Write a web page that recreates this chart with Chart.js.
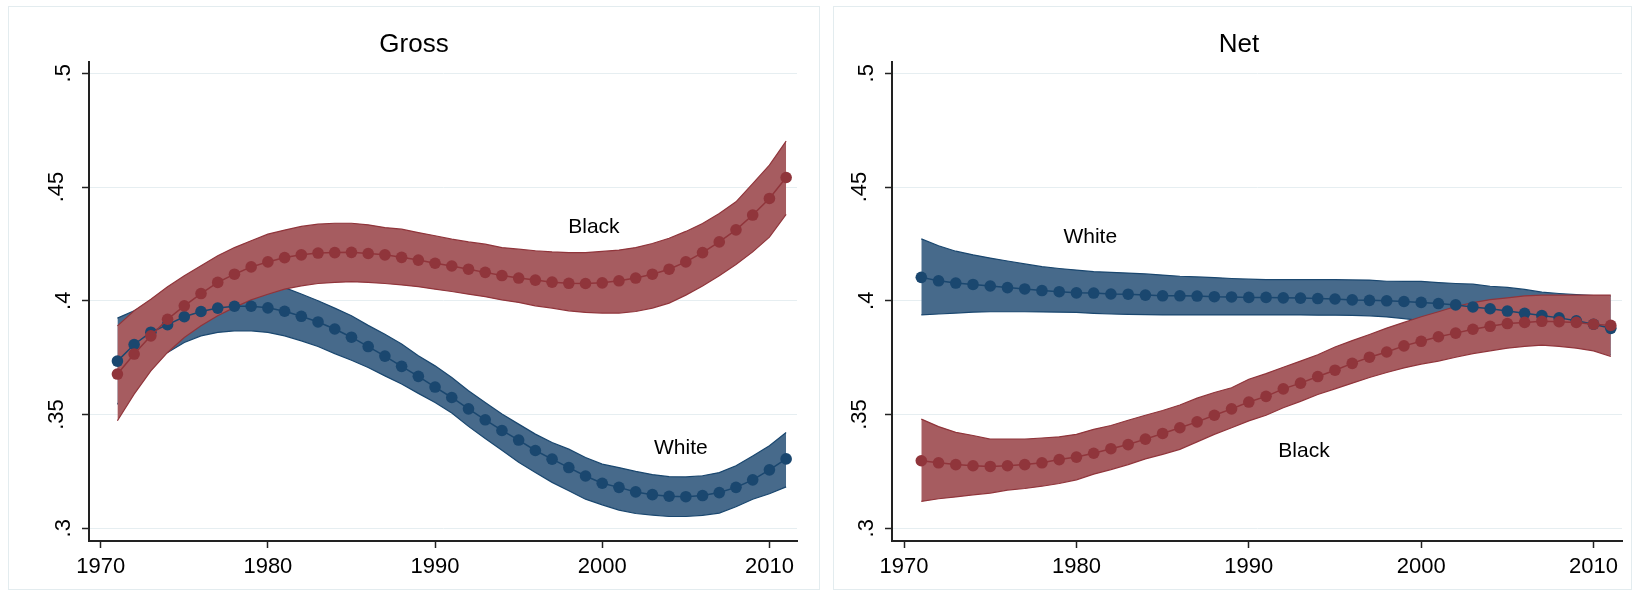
<!DOCTYPE html>
<html>
<head>
<meta charset="utf-8">
<script src="https://cdn.jsdelivr.net/npm/chart.js@4.4.0/dist/chart.umd.min.js"></script>
<style>
  body { margin: 0; background: #fff; width: 1635px; height: 595px; overflow: hidden; position: relative; }
  .frame { position: absolute; border: 1px solid #e3ecef; box-sizing: border-box; }
  canvas { position: absolute; top: 0; }
</style>
</head>
<body>
<div class="frame" style="left:8px;top:6px;width:812px;height:584px"></div>
<div class="frame" style="left:833px;top:6px;width:799px;height:584px"></div>
<canvas id="gross" width="826" height="595" style="left:0"></canvas>
<canvas id="net" width="809" height="595" style="left:826px"></canvas>

<script>
// ---- data ----
const years = [1971,1972,1973,1974,1975,1976,1977,1978,1979,1980,1981,1982,1983,1984,1985,1986,1987,1988,1989,1990,
  1991,1992,1993,1994,1995,1996,1997,1998,1999,2000,2001,2002,2003,2004,2005,2006,2007,2008,2009,2010,2011];

const xTicks = [1970, 1980, 1990, 2000, 2010];
const yTicks = [0.3, 0.35, 0.4, 0.45, 0.5];
const yTickLabels = ['.3', '.35', '.4', '.45', '.5'];

// Gross
const grossWhite = [.3735,.3808,.3862,.3895,.3930,.3953,.3968,.3976,.3976,.3969,.3954,.3932,.3907,.3876,.3840,.3799,.3757,.3712,.3668,.3621,
  .3575,.3525,.3477,.3430,.3388,.3342,.3304,.3267,.3230,.3198,.3180,.3160,.3148,.3141,.3139,.3144,.3157,.3180,.3213,.3257,.3305];
const grossWhiteHi = [.3924,.3956,.3993,.4022,.4047,.4062,.4073,.4081,.4084,.4078,.4058,.4030,.4000,.3968,.3934,.3892,.3853,.3810,.3758,.3714,
  .3663,.3605,.3553,.3502,.3458,.3414,.3377,.3348,.3311,.3282,.3267,.3250,.3236,.3227,.3226,.3231,.3245,.3275,.3318,.3363,.3421];
const grossWhiteLo = [.3545,.3655,.3730,.3773,.3817,.3846,.3861,.3868,.3868,.3861,.3846,.3824,.3799,.3768,.3739,.3707,.3670,.3634,.3593,.3553,
  .3507,.3448,.3395,.3343,.3290,.3245,.3202,.3165,.3128,.3103,.3080,.3065,.3058,.3052,.3052,.3057,.3067,.3095,.3128,.3152,.3182];
const grossBlack = [.3678,.3766,.3846,.3919,.3978,.4032,.4081,.4117,.4149,.4171,.4190,.4202,.4210,.4212,.4213,.4208,.4202,.4191,.4179,.4165,
  .4153,.4139,.4125,.4111,.4100,.4091,.4082,.4077,.4076,.4079,.4088,.4100,.4117,.4139,.4171,.4212,.4259,.4312,.4377,.4450,.4542];
const grossBlackHi = [.3890,.3956,.4007,.4062,.4110,.4154,.4198,.4234,.4264,.4293,.4311,.4327,.4337,.4341,.4341,.4334,.4322,.4315,.4300,.4286,
  .4271,.4259,.4249,.4234,.4227,.4220,.4215,.4212,.4212,.4217,.4223,.4234,.4252,.4275,.4305,.4340,.4384,.4435,.4515,.4596,.4702];
const grossBlackLo = [.3473,.3590,.3692,.3773,.3839,.3890,.3934,.3971,.4004,.4029,.4051,.4066,.4076,.4081,.4084,.4081,.4076,.4070,.4062,.4051,
  .4041,.4029,.4018,.4004,.3993,.3978,.3968,.3956,.3949,.3946,.3946,.3953,.3968,.3990,.4025,.4065,.4110,.4160,.4215,.4280,.4380];

// Net
const netWhite = [.4103,.4088,.4078,.4072,.4065,.4058,.4052,.4045,.4040,.4035,.4034,.4030,.4029,.4025,.4022,.4022,.4021,.4018,.4017,.4015,
  .4015,.4013,.4012,.4010,.4008,.4004,.4002,.4000,.3997,.3993,.3988,.3982,.3973,.3965,.3955,.3945,.3935,.3925,.3912,.3897,.3879];
const netWhiteHi = [.4272,.4242,.4218,.4202,.4188,.4175,.4162,.4150,.4142,.4135,.4128,.4125,.4122,.4118,.4113,.4108,.4105,.4102,.4098,.4095,
  .4093,.4093,.4093,.4093,.4093,.4092,.4091,.4086,.4085,.4085,.4080,.4076,.4073,.4064,.4059,.4050,.4038,.4032,.4027,.4023,.4020];
const netWhiteLo = [.3938,.3942,.3946,.3950,.3952,.3952,.3952,.3951,.3950,.3949,.3945,.3942,.3940,.3939,.3938,.3938,.3938,.3938,.3938,.3938,
  .3938,.3938,.3938,.3937,.3937,.3936,.3934,.3929,.3922,.3913,.3904,.3895,.3885,.3874,.3862,.3850,.3836,.3821,.3805,.3785,.3762];
const netBlack = [.3297,.3288,.3280,.3275,.3272,.3275,.3280,.3288,.3302,.3313,.3330,.3350,.3368,.3392,.3417,.3442,.3468,.3497,.3525,.3555,
  .3580,.3613,.3638,.3667,.3695,.3725,.3752,.3775,.3802,.3822,.3842,.3858,.3875,.3888,.3900,.3905,.3910,.3908,.3905,.3897,.3892];
const netBlackHi = [.3480,.3447,.3422,.3408,.3392,.3392,.3392,.3397,.3402,.3413,.3435,.3452,.3475,.3497,.3518,.3542,.3572,.3597,.3618,.3655,
  .3680,.3708,.3735,.3763,.3797,.3825,.3852,.3880,.3905,.3930,.3952,.3975,.3992,.4005,.4013,.4022,.4025,.4025,.4025,.4025,.4025];
const netBlackLo = [.3118,.3130,.3138,.3147,.3155,.3168,.3175,.3185,.3197,.3213,.3238,.3258,.3280,.3305,.3325,.3347,.3380,.3413,.3442,.3472,
  .3497,.3530,.3558,.3588,.3613,.3638,.3663,.3685,.3705,.3722,.3735,.3752,.3768,.3780,.3792,.3800,.3805,.3800,.3792,.3780,.3755];

// ---- colours ----
const NAVY = '#1a476f', MAROON = '#90353b';
const NAVY_BAND = '#476a8b', MAROON_BAND = '#a65c60';
const AXIS = '#222';
const FONT = '"Liberation Sans", Arial, sans-serif';

const pts = arr => arr.map((v, i) => ({ x: years[i], y: v }));

// draws titles, tick labels and curve names
const textPlugin = {
  id: 'texts',
  afterDraw(chart, args, opts) {
    const { ctx, scales: { x, y } } = chart;
    ctx.save();
    ctx.fillStyle = '#000';
    ctx.textAlign = 'center';
    ctx.textBaseline = 'middle';

    ctx.font = '26px ' + FONT;
    ctx.fillText(opts.title, opts.titleX, 45);

    ctx.font = '22px ' + FONT;
    xTicks.forEach(t => ctx.fillText(String(t), x.getPixelForValue(t), 567));

    yTicks.forEach((t, i) => {
      const lab = yTickLabels[i];
      const px = x.left - (lab.length > 2 ? 32 : 25);
      ctx.save();
      ctx.translate(px, y.getPixelForValue(t));
      ctx.rotate(-Math.PI / 2);
      ctx.fillText(lab, 0, 0);
      ctx.restore();
    });

    ctx.font = '21px ' + FONT;
    opts.notes.forEach(n => ctx.fillText(n.text, x.getPixelForValue(n.x), y.getPixelForValue(n.y)));
    ctx.restore();
  }
};

function makePanel(id, cfg) {
  const line = (data, color, order) => ({
    data: pts(data), borderColor: color, borderWidth: 1.5, backgroundColor: color,
    pointRadius: 5.8, pointBackgroundColor: color, pointBorderWidth: 0, pointHoverRadius: 5.8,
    fill: false, tension: 0, order
  });
  const edge = (data, color, band, order, fill) => ({
    data: pts(data), borderColor: color, borderWidth: 1.2, backgroundColor: band,
    pointRadius: 0, fill: fill ? '+1' : false, tension: 0, order
  });

  new Chart(document.getElementById(id), {
    type: 'line',
    data: {
      datasets: [
        edge(cfg.whiteHi, NAVY, NAVY_BAND, 6, true),
        edge(cfg.whiteLo, NAVY, NAVY_BAND, 5, false),
        edge(cfg.blackHi, MAROON, MAROON_BAND, 4, true),
        edge(cfg.blackLo, MAROON, MAROON_BAND, 3, false),
        line(cfg.white, NAVY, 2),
        line(cfg.black, MAROON, 1)
      ]
    },
    options: {
      responsive: false,
      devicePixelRatio: 1,
      animation: false,
      layout: { padding: { top: 62, left: 0, right: cfg.padRight, bottom: 0 } },
      plugins: {
        legend: { display: false },
        tooltip: { enabled: false },
        texts: { title: cfg.title, titleX: cfg.titleX, notes: cfg.notes }
      },
      scales: {
        x: {
          type: 'linear', min: 1969.3, max: 2011.65,
          afterBuildTicks: s => { s.ticks = xTicks.map(v => ({ value: v })); },
          afterFit: s => { s.height = 54; },
          grid: { drawOnChartArea: false, tickLength: 7, tickColor: AXIS, tickWidth: 1.5 },
          border: { color: AXIS, width: 2 },
          ticks: { display: false }
        },
        y: {
          min: 0.29442, max: 0.50497,
          afterBuildTicks: s => { s.ticks = yTicks.map(v => ({ value: v })); },
          afterFit: s => { s.width = cfg.yWidth; },
          grid: { color: '#e6eef1', lineWidth: 1, tickLength: 7, tickColor: AXIS, tickWidth: 1.5 },
          border: { color: AXIS, width: 2 },
          ticks: { display: false }
        }
      }
    },
    plugins: [textPlugin]
  });
}

makePanel('gross', {
  title: 'Gross', titleX: 414, yWidth: 89, padRight: 29,
  white: grossWhite, whiteHi: grossWhiteHi, whiteLo: grossWhiteLo,
  black: grossBlack, blackHi: grossBlackHi, blackLo: grossBlackLo,
  notes: [{ text: 'Black', x: 1999.5, y: 0.4323 }, { text: 'White', x: 2004.7, y: 0.3352 }]
});

makePanel('net', {
  title: 'Net', titleX: 413, yWidth: 66, padRight: 13,
  white: netWhite, whiteHi: netWhiteHi, whiteLo: netWhiteLo,
  black: netBlack, blackHi: netBlackHi, blackLo: netBlackLo,
  notes: [{ text: 'White', x: 1980.8, y: 0.428 }, { text: 'Black', x: 1993.2, y: 0.334 }]
});
</script>
</body>
</html>
